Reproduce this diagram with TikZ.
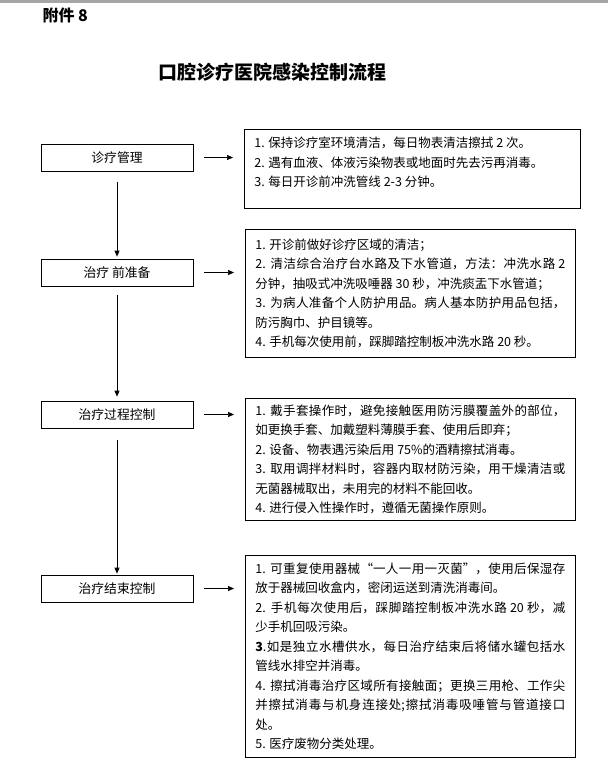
\documentclass[tikz,border=0pt]{standalone}
\usepackage{fontspec}
\setmainfont{Noto Sans CJK SC}
\usetikzlibrary{arrows.meta}
\XeTeXlinebreaklocale "zh"
\XeTeXlinebreakskip=0pt plus 2pt

\begin{document}
\begin{tikzpicture}[x=1pt, y=-1pt,
  stagebox/.style={draw, line width=0.7pt, minimum width=152pt, minimum height=27pt, inner sep=0pt, font=\fontsize{12.8}{15}\selectfont},
  notebox/.style={draw, line width=0.7pt, anchor=north west, text width=310pt, inner xsep=10pt, inner ysep=0pt, align=justify, font=\fontsize{12.5}{19.5}\selectfont},
  arrowline/.style={-{Triangle[length=6pt,width=5pt]}, line width=0.7pt}]
\useasboundingbox (0,0) rectangle (608,771);
\fill[gray!70] (0,0) rectangle (608,2.5);
\node[anchor=west, font=\fontsize{16}{18}\selectfont\bfseries] (att) at (39,15) {附件 8};
\node[font=\fontsize{19}{22}\selectfont\bfseries] (title) at (272,72) {口腔诊疗医院感染控制流程};
% stages
\node[stagebox] (s1) at (117,157.5) {诊疗管理};
\node[stagebox] (s2) at (117,272.5) {治疗 前准备};
\node[stagebox] (s3) at (117,414.5) {治疗过程控制};
\node[stagebox] (s4) at (117,588.5) {治疗结束控制};
% measures
\node[notebox, text width=316pt, inner ysep=8pt, text depth=52pt] (n1) at (244,129) {1. 保持诊疗室环境清洁，每日物表清洁擦拭 2 次。\par
2. 遇有血液、体液污染物表或地面时先去污再消毒。\par
3. 每日开诊前冲洗管线 2-3 分钟。};
\node[notebox, minimum height=128pt] (n2) at (245,229) {1. 开诊前做好诊疗区域的清洁；\par
2. 清洁综合治疗台水路及下水管道，方法：冲洗水路 2\linebreak 分钟，抽吸式冲洗吸唾器 30 秒，冲洗痰盂下水管道；\par
3. 为病人准备个人防护用品。病人基本防护用品包括，\linebreak 防污胸巾、护目镜等。\par
4. 手机每次使用前，踩脚踏控制板冲洗水路 20 秒。};
\node[notebox, minimum height=122pt] (n3) at (245,398) {1. 戴手套操作时，避免接触医用防污膜覆盖外的部位，\linebreak 如更换手套、加戴塑料薄膜手套、使用后即弃；\par
2. 设备、物表遇污染后用 75\%的酒精擦拭消毒。\par
3. 取用调拌材料时，容器内取材防污染，用干燥清洁或\linebreak 无菌器械取出，未用完的材料不能回收。\par
4. 进行侵入性操作时，遵循无菌操作原则。};
\node[notebox, minimum height=202pt] (n4) at (245,555) {1. 可重复使用器械“一人一用一灭菌”，使用后保湿存\linebreak 放于器械回收盒内，密闭运送到清洗消毒间。\par
2. 手机每次使用后，踩脚踏控制板冲洗水路 20 秒，减\linebreak 少手机回吸污染。\par
\textbf{3}.如是独立水槽供水，每日治疗结束后将储水罐包括水\linebreak 管线水排空并消毒。\par
4. 擦拭消毒治疗区域所有接触面；更换三用枪、工作尖\linebreak 并擦拭消毒与机身连接处;擦拭消毒吸唾管与管道接口\linebreak 处。\par
5. 医疗废物分类处理。};
% connectors
\draw[arrowline, shorten <=11pt, shorten >=2pt] (s1) -- (s2);
\draw[arrowline, shorten <=9pt, shorten >=4pt] (s2) -- (s3);
\draw[arrowline, shorten <=12pt, shorten >=1pt] (s3) -- (s4);
\draw[arrowline, shorten <=11pt, shorten >=11pt] (s1) -- (s1 -| n1.west);
\draw[arrowline, shorten <=11pt, shorten >=11pt] (s2) -- (s2 -| n2.west);
\draw[arrowline, shorten <=11pt, shorten >=11pt] (s3) -- (s3 -| n3.west);
\draw[arrowline, shorten <=11pt, shorten >=11pt] (s4) -- (s4 -| n4.west);
\end{tikzpicture}
\end{document}
